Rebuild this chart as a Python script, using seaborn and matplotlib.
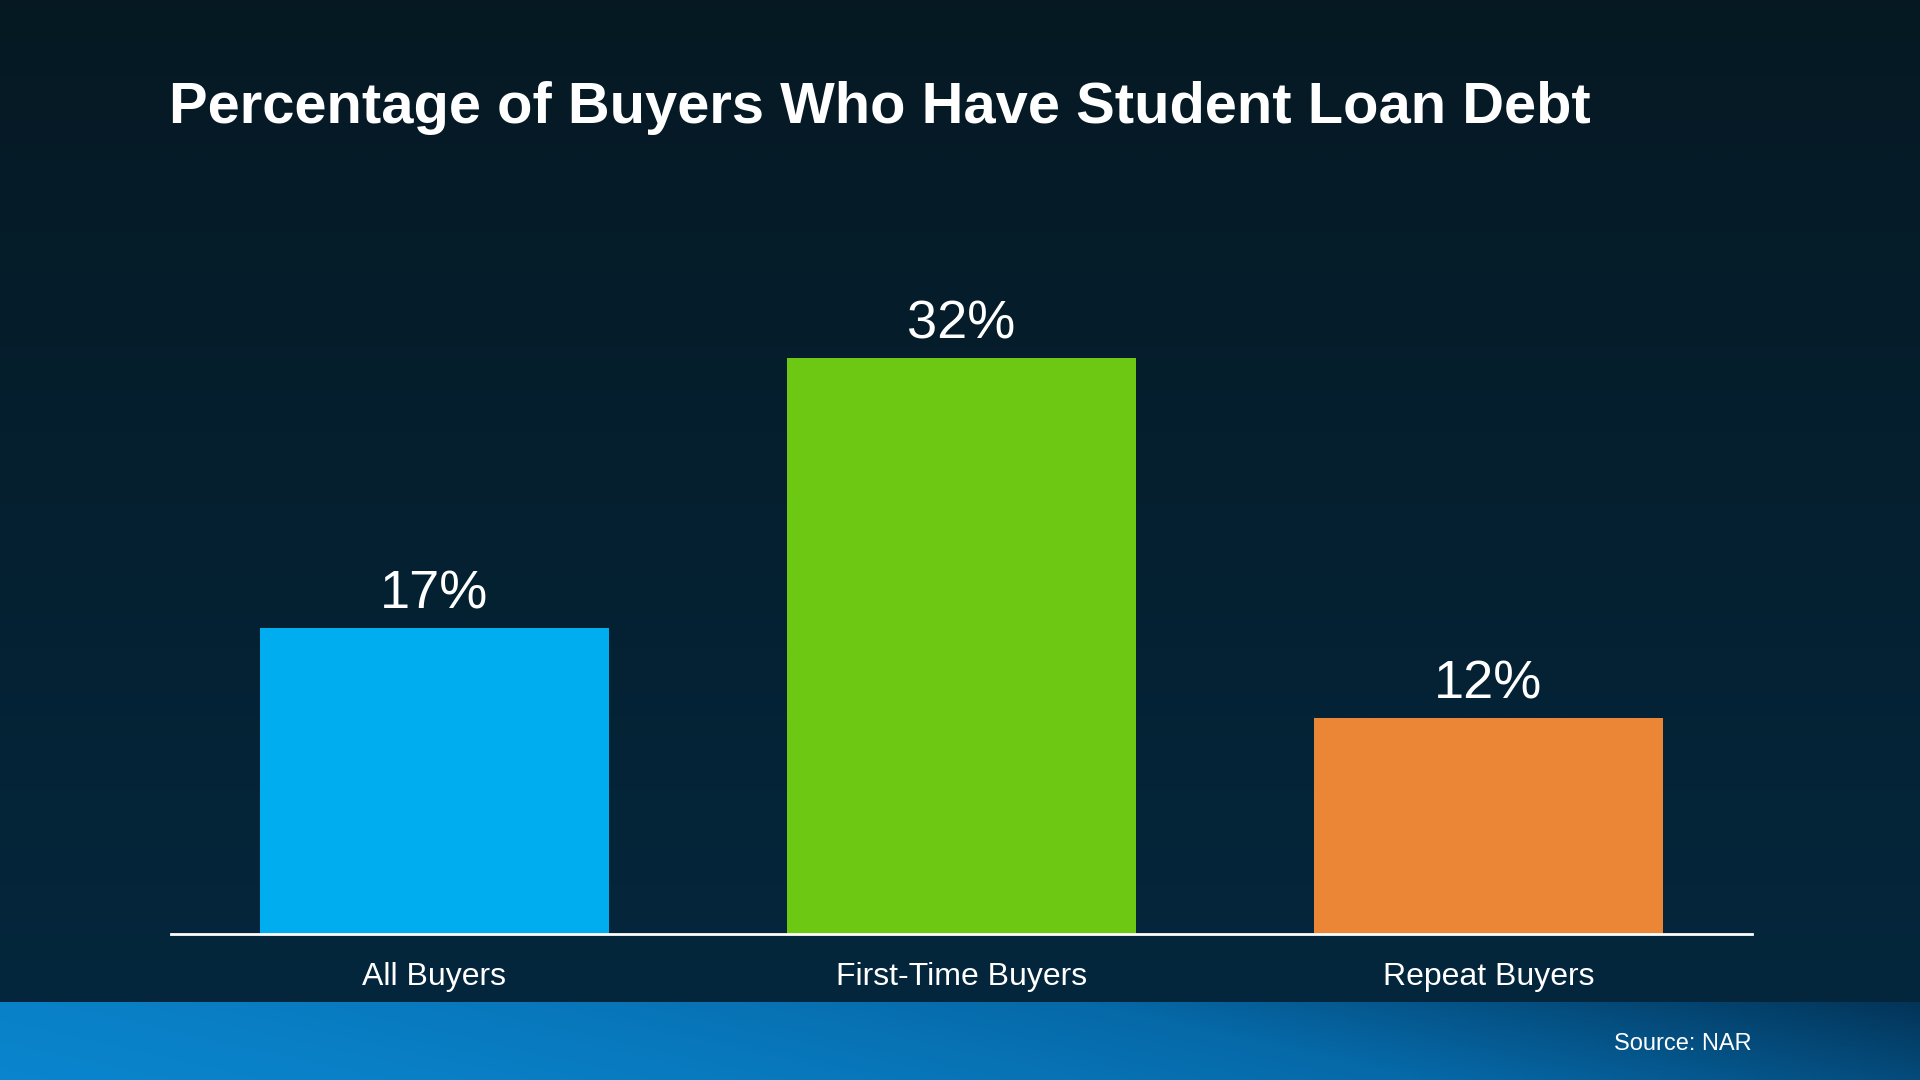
import numpy as np
import matplotlib
matplotlib.use("Agg")
import matplotlib.pyplot as plt
import matplotlib.colors as mcolors
import seaborn as sns

categorias = ["All Buyers", "First-Time Buyers", "Repeat Buyers"]
porcentajes = [17, 32, 12]
colores = ["#00AEEF", "#6CC813", "#EA8636"]
titulo = "Percentage of Buyers Who Have Student Loan Debt"
fuente = "Source: NAR"


def configurar_graficos():
    sns.set_theme(style="white")
    plt.rcParams["font.family"] = ["Liberation Sans", "DejaVu Sans"]


def fondo(fig):
    """Fondo degradado y franja inferior."""
    bg = fig.add_axes([0, 0, 1, 1], zorder=-2)
    bg.axis("off")
    h = np.linspace(0, 1, 400)[:, None] * np.ones((1, 10))
    cmap = mcolors.LinearSegmentedColormap.from_list("bg", ["#061923", "#04283f"])
    bg.imshow(h, cmap=cmap, aspect="auto", extent=[0, 1, 0, 1], origin="upper")
    bg.set_xlim(0, 1)
    bg.set_ylim(0, 1)

    banda = fig.add_axes([0, 0, 1, 78 / 1080], zorder=-1)
    banda.axis("off")
    xx, yy = np.meshgrid(np.linspace(0, 1, 600), np.linspace(0, 1, 40))
    t = np.clip(0.85 * xx + 0.15 * (1 - yy), 0, 1) ** 1.5
    cmap2 = mcolors.LinearSegmentedColormap.from_list(
        "banda", ["#0a84cc", "#0669a8", "#033458"])
    banda.imshow(t, cmap=cmap2, aspect="auto", extent=[0, 1, 0, 1], origin="upper")


def graficar():
    fig = plt.figure(figsize=(19.2, 10.8), dpi=100)
    fondo(fig)

    ax = fig.add_axes([171 / 1920, 146 / 1080, 1581 / 1920, 720 / 1080])
    ax.patch.set_alpha(0)
    sns.barplot(x=categorias, y=porcentajes, hue=categorias, palette=colores,
                width=0.664, saturation=1, legend=False, linewidth=0,
                edgecolor="none", ax=ax)
    ax.set_xlim(-0.5, 2.5)
    ax.set_ylim(0, 40)

    for barra, valor in zip(ax.patches, porcentajes):
        ax.annotate(f"{valor}%", (barra.get_x() + barra.get_width() / 2, barra.get_height()),
                    xytext=(0, 14), textcoords="offset points",
                    ha="center", va="baseline", fontsize=39, color="white")

    sns.despine(ax=ax, left=True)
    ax.spines["bottom"].set_color("white")
    ax.spines["bottom"].set_linewidth(2)
    ax.spines["bottom"].set_zorder(5)
    ax.set_yticks([])
    ax.tick_params(axis="x", length=0, pad=20, labelsize=23, labelcolor="white")
    ax.set_xlabel("")
    ax.set_ylabel("")

    fig.text(169 / 1920, 1 - 123 / 1080, titulo, fontsize=41.7, fontweight="bold",
             color="white", ha="left", va="baseline")
    fig.text(1752 / 1920, 1 - 1050 / 1080, fuente, fontsize=17, color="white",
             ha="right", va="baseline")

    fig.savefig("out.png", dpi=100)


configurar_graficos()
graficar()
